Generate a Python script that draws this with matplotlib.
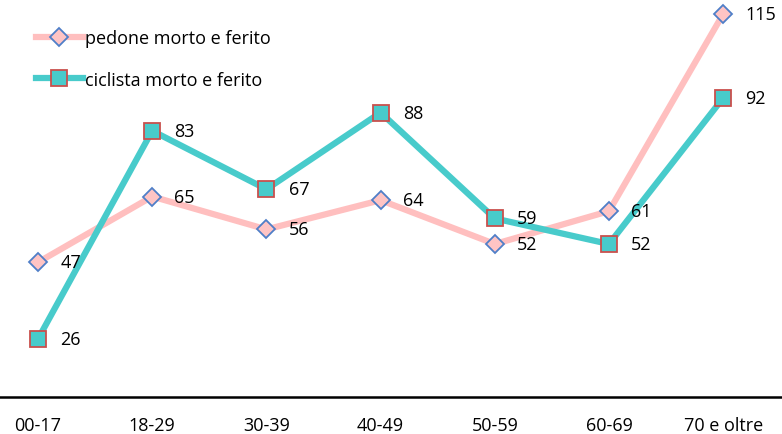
import matplotlib.pyplot as plt
import numpy as np

plt.rcParams['font.family'] = ['Open Sans', 'DejaVu Sans']

categories = ['00-17', '18-29', '30-39', '40-49', '50-59', '60-69', '70 e oltre']
pedone = [47, 65, 56, 64, 52, 61, 115]
ciclista = [26, 83, 67, 88, 59, 52, 92]

x = np.arange(len(categories))

fig = plt.figure(figsize=(7.82, 4.35), dpi=100)
ax = fig.add_axes([0, 37 / 435, 1, 398 / 435])

ax.plot(x, pedone, color='#FFBFBF', lw=4.5, marker='D', ms=9,
        markerfacecolor='#FFC4C4', markeredgecolor='#4F7FC8', markeredgewidth=1.3,
        label='pedone morto e ferito', zorder=2)
ax.plot(x, ciclista, color='#48CBCB', lw=4.5, marker='s', ms=12,
        markerfacecolor='#48CBCB', markeredgecolor='#C9504D', markeredgewidth=1.3,
        label='ciclista morto e ferito', zorder=3)

for xi, v in zip(x, pedone):
    ax.annotate(str(v), (xi, v), xytext=(16, 0), textcoords='offset points',
                va='center', ha='left', fontsize=13)
for xi, v in zip(x, ciclista):
    ax.annotate(str(v), (xi, v), xytext=(16, 0), textcoords='offset points',
                va='center', ha='left', fontsize=13)

ax.set_xlim(-0.333, 6.515)
ax.set_ylim(10.1, 119.1)
ax.set_xticks(x)
ax.set_xticklabels(categories, fontsize=13)
ax.set_yticks([])
ax.tick_params(axis='x', length=0, pad=14)
for s in ['top', 'right', 'left']:
    ax.spines[s].set_visible(False)
ax.spines['bottom'].set_linewidth(1.8)
ax.spines['bottom'].set_color('black')

ax.legend(loc='upper left', bbox_to_anchor=(0.025, 0.965), frameon=False,
          fontsize=13, handlelength=2.6, labelspacing=1.3, handletextpad=0.15)

fig.savefig('out.png', dpi=100)
